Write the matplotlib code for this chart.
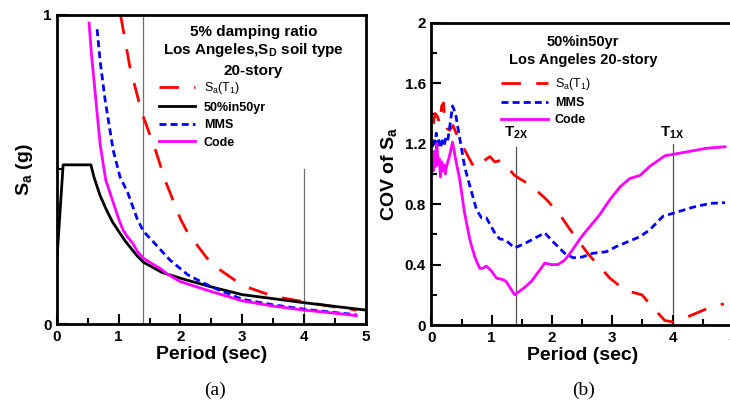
import matplotlib
matplotlib.use("Agg")
import matplotlib.pyplot as plt
from matplotlib.ticker import MultipleLocator

plt.rcParams['font.family'] = ['Liberation Sans', 'DejaVu Sans']
plt.rcParams['mathtext.fontset'] = 'custom'
plt.rcParams['mathtext.rm'] = 'Liberation Sans'
plt.rcParams['mathtext.bf'] = 'Liberation Sans:bold'
plt.rcParams['mathtext.it'] = 'Liberation Sans:italic'

# -------------------------------
# (a) spectral acceleration, Sa (g)
# -------------------------------
sat1_T = [1.03, 1.18, 1.32, 1.4, 1.6, 1.75, 2.0, 2.12, 2.5, 3.0, 3.5, 4.0, 4.5, 4.85]
sat1_sa = [1.0, 0.833, 0.725, 0.67, 0.56, 0.466, 0.34, 0.294, 0.195, 0.125, 0.09, 0.072, 0.055, 0.045]

haz_T = [0.0, 0.1, 0.55, 0.6, 0.65, 0.7, 0.8, 0.9, 1.0, 1.1, 1.2, 1.3, 1.4, 1.7, 2.0, 2.5,
         3.0, 3.5, 4.0, 4.5, 5.0]
haz_sa = [0.21, 0.515, 0.515, 0.475, 0.445, 0.415, 0.37, 0.33, 0.30, 0.27, 0.245, 0.22, 0.2,
          0.167, 0.148, 0.12, 0.095, 0.082, 0.069, 0.057, 0.045]

mms_T = [0.65, 0.7, 0.78, 0.91, 1.02, 1.15, 1.3, 1.4, 1.56, 1.83, 2.12, 2.5, 3.0, 3.5, 4.0, 4.5, 4.85]
mms_sa = [0.954, 0.85, 0.725, 0.563, 0.477, 0.423, 0.34, 0.3, 0.266, 0.207, 0.159, 0.12, 0.08, 0.062, 0.048, 0.037, 0.03]

code_T = [0.52, 0.56, 0.63, 0.7, 0.79, 0.86, 1.0, 1.07, 1.15, 1.23, 1.3, 1.4, 1.5, 1.67, 1.8,
          2.0, 2.5, 3.0, 3.5, 4.0, 4.5, 4.85]
code_sa = [0.974, 0.87, 0.725, 0.58, 0.466, 0.424, 0.34, 0.304, 0.28, 0.261, 0.235, 0.213, 0.2,
           0.18, 0.16, 0.137, 0.105, 0.075, 0.058, 0.045, 0.035, 0.027]

# -------------------------------
# (b) COV of Sa
# -------------------------------
cov_sat1_T = [0.03, 0.06, 0.1, 0.14, 0.17, 0.2, 0.22, 0.26, 0.3, 0.36, 0.41, 0.5, 0.55, 0.71, 0.8,
              0.88, 0.97, 1.05, 1.16, 1.25, 1.38, 1.66, 1.91, 2.13, 2.32, 2.6, 2.96, 3.21, 3.49,
              3.6, 3.73, 3.87, 4.01, 4.15, 4.32, 4.62, 4.85]
cov_sat1 = [1.33, 1.40, 1.38, 1.33, 1.45, 1.47, 1.36, 1.30, 1.29, 1.32, 1.27, 1.20, 1.16, 1.04, 1.07,
            1.09, 1.115, 1.08, 1.09, 1.05, 0.99, 0.92, 0.83, 0.73, 0.62, 0.47, 0.31, 0.23, 0.2,
            0.15, 0.09, 0.03, 0.02, 0.04, 0.066, 0.117, 0.14]

cov_mms_T = [0.02, 0.04, 0.06, 0.08, 0.1, 0.12, 0.15, 0.18, 0.21, 0.24, 0.27, 0.3, 0.35, 0.4, 0.45,
             0.55, 0.61, 0.75, 0.83, 0.91, 1.05, 1.13, 1.22, 1.38, 1.55, 1.88, 2.02, 2.21, 2.35,
             2.5, 2.68, 2.9, 3.07, 3.46, 3.62, 3.84, 4.01, 4.34, 4.62, 4.87]
cov_mms = [1.18, 1.24, 1.20, 1.27, 1.19, 1.23, 1.17, 1.22, 1.19, 1.24, 1.22, 1.30, 1.45, 1.40, 1.28,
           1.05, 0.96, 0.76, 0.71, 0.71, 0.61, 0.57, 0.565, 0.51, 0.54, 0.61, 0.55, 0.475, 0.445,
           0.45, 0.475, 0.485, 0.52, 0.585, 0.63, 0.72, 0.74, 0.78, 0.805, 0.81]

cov_code_T = [0.02, 0.03, 0.05, 0.07, 0.09, 0.11, 0.13, 0.15, 0.17, 0.19, 0.21, 0.23, 0.25, 0.3,
              0.35, 0.4, 0.47, 0.55, 0.64, 0.72, 0.8, 0.85, 0.91, 0.99, 1.08, 1.19, 1.24, 1.38,
              1.55, 1.66, 1.77, 1.88, 1.99, 2.1, 2.21, 2.3, 2.49, 2.79, 2.96, 3.13, 3.29, 3.46,
              3.62, 3.87, 4.01, 4.29, 4.56, 4.87]
cov_code = [1.10, 1.02, 1.15, 1.05, 1.20, 1.06, 1.10, 0.98, 1.08, 1.02, 1.06, 1.0, 1.05, 1.12,
            1.21, 1.10, 0.96, 0.74, 0.56, 0.45, 0.375, 0.375, 0.39, 0.36, 0.31, 0.30, 0.287, 0.2,
            0.25, 0.29, 0.35, 0.41, 0.40, 0.40, 0.43, 0.475, 0.585, 0.73, 0.83, 0.915, 0.97, 0.99,
            1.05, 1.12, 1.13, 1.15, 1.17, 1.18]

T2x = 1.4
T1x = 4.0

fig = plt.figure(figsize=(7.3, 4.05), dpi=100)
ax1 = fig.add_axes([0.078, 0.2, 0.423, 0.763])
ax2 = fig.add_axes([0.591, 0.1975, 0.413, 0.746])

lw = 2.0
red_dash = (7, 5.5)
blue_dash = (2.5, 1.5)

# panel (a)
ax1.axvline(T2x, color='#707070', lw=0.9, zorder=1)
ax1.plot([T1x, T1x], [0, 0.5], color='#707070', lw=0.9, zorder=1)
ax1.plot(sat1_T, sat1_sa, color='red', lw=lw, dashes=red_dash,
         label=r'$\mathregular{S_a(T_1)}$')
ax1.plot(haz_T, haz_sa, color='black', lw=lw, label='50%in50yr')
ax1.plot(mms_T, mms_sa, color='blue', lw=lw, dashes=blue_dash, label='MMS')
ax1.plot(code_T, code_sa, color='magenta', lw=lw, label='Code')
ax1.set_xlim(0, 5)
ax1.set_ylim(0, 1)
ax1.xaxis.set_major_locator(MultipleLocator(1))
ax1.xaxis.set_minor_locator(MultipleLocator(0.5))
ax1.set_yticks([0, 1])
ax1.set_yticklabels(['0', '1'])
ax1.yaxis.set_minor_locator(MultipleLocator(0.5))
ax1.set_xlabel('Period (sec)', fontsize=14, fontweight='bold', labelpad=2)
ax1.set_ylabel(r'$\mathbf{S_a}$ (g)', fontsize=14, fontweight='bold', labelpad=6)
ax1.text(0.637, 0.945, '5% damping ratio', transform=ax1.transAxes, ha='center',
         va='center', fontsize=11, fontweight='bold')
ax1.text(0.637, 0.887, r'Los Angeles,$\mathbf{S_D}$ soil type', transform=ax1.transAxes,
         ha='center', va='center', fontsize=11, fontweight='bold')
ax1.text(0.637, 0.819, '20-story', transform=ax1.transAxes, ha='center', va='center',
         fontsize=11, fontweight='bold')
leg1 = ax1.legend(loc='upper left', bbox_to_anchor=(0.31, 0.81), frameon=False,
                  prop={'weight': 'bold', 'size': 9}, handlelength=2.9,
                  handletextpad=0.7, labelspacing=0.45, borderpad=0)
leg1.get_texts()[0].set_fontweight('normal')

# panel (b)
ax2.plot([T2x, T2x], [0, 1.18], color='#505050', lw=0.9, zorder=1)
ax2.plot([T1x, T1x], [0, 1.2], color='#505050', lw=0.9, zorder=1)
ax2.plot(cov_sat1_T, cov_sat1, color='red', lw=lw, dashes=red_dash,
         label=r'$\mathregular{S_a(T_1)}$')
ax2.plot(cov_mms_T, cov_mms, color='blue', lw=lw, dashes=blue_dash, label='MMS')
ax2.plot(cov_code_T, cov_code, color='magenta', lw=lw, label='Code')
ax2.text(T2x, 1.27, r'$\mathbf{T_{2X}}$', ha='center', va='center', fontsize=11)
ax2.text(T1x, 1.27, r'$\mathbf{T_{1X}}$', ha='center', va='center', fontsize=11)
ax2.set_xlim(0, 5)
ax2.set_ylim(0, 2)
ax2.xaxis.set_major_locator(MultipleLocator(1))
ax2.xaxis.set_minor_locator(MultipleLocator(0.5))
ax2.set_yticks([0, 0.4, 0.8, 1.2, 1.6, 2.0])
ax2.set_yticklabels(['0', '0.4', '0.8', '1.2', '1.6', '2'])
ax2.yaxis.set_minor_locator(MultipleLocator(0.2))
ax2.set_xlabel('Period (sec)', fontsize=14, fontweight='bold', labelpad=2)
ax2.set_ylabel(r'COV of $\mathbf{S_a}$', fontsize=14, fontweight='bold', labelpad=4)
ax2.text(0.502, 0.937, '50%in50yr', transform=ax2.transAxes, ha='center', va='center',
         fontsize=10.5, fontweight='bold')
ax2.text(0.502, 0.877, 'Los Angeles 20-story', transform=ax2.transAxes, ha='center',
         va='center', fontsize=10.5, fontweight='bold')
leg2 = ax2.legend(loc='upper left', bbox_to_anchor=(0.21, 0.845), frameon=False,
                  prop={'weight': 'bold', 'size': 9}, handlelength=3.8,
                  handletextpad=0.5, labelspacing=0.4, borderpad=0)
leg2.get_texts()[0].set_fontweight('normal')

for ax in (ax1, ax2):
    for s in ax.spines.values():
        s.set_linewidth(2)
    ax.tick_params(which='both', direction='in', width=1.5, labelsize=11, pad=4)
    ax.tick_params(which='major', length=7.5)
    ax.tick_params(which='minor', length=4)
    for lab in ax.get_xticklabels() + ax.get_yticklabels():
        lab.set_fontweight('bold')

fig.text(215 / 730, 1 - 390 / 405, '(a)', family='Liberation Serif', fontsize=14,
         ha='center', va='center')
fig.text(584 / 730, 1 - 390 / 405, '(b)', family='Liberation Serif', fontsize=14,
         ha='center', va='center')

fig.savefig('out.png', dpi=100)
